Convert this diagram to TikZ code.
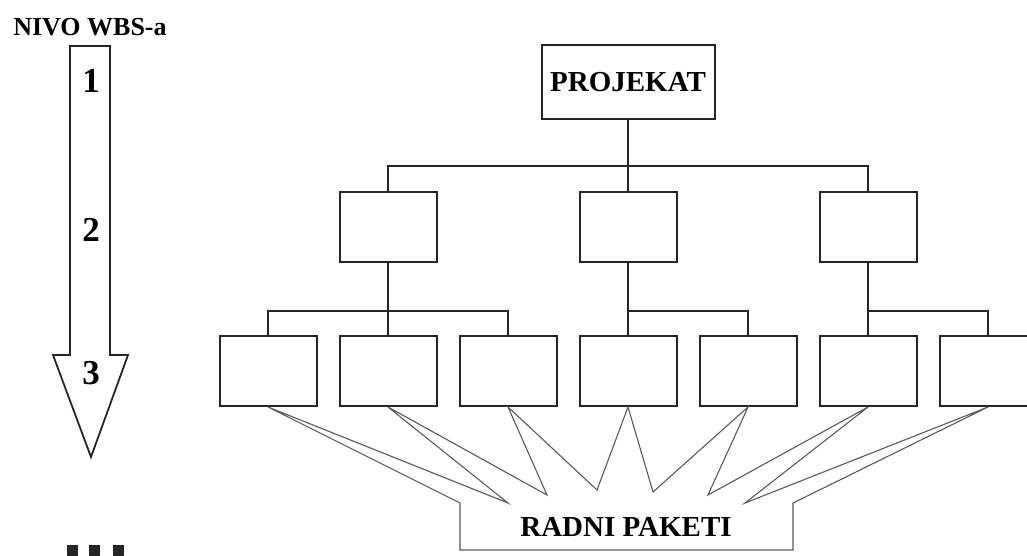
\documentclass[tikz,border=0pt]{standalone}
\usepackage{fontspec}
\setmainfont{Liberation Serif}
\usetikzlibrary{positioning}
\tikzset{
  base/.style = {draw=black!85, line width=2pt, text centered, inner sep=0pt},
}

\begin{document}
\begin{tikzpicture}[x=1pt, y=-1pt,
            wbs/.style   = {base, rectangle, minimum width=97pt, minimum height=70pt},
            projbox/.style = {base, rectangle, minimum width=173pt, minimum height=74pt,
                              font=\fontsize{29}{30}\selectfont\bfseries},
            conn/.style  = {draw=black!85, line width=1.8pt},
            spike/.style = {draw=black!65, line width=1.1pt},
            levelnum/.style = {font=\fontsize{35}{36}\selectfont\bfseries},
        ]
        \useasboundingbox (0,0) rectangle (1027,555);

        % level 3 (radni paketi)
        \node[wbs] (p1) at (268,371) {};
        \node[wbs, right=21pt of p1] (p2) {};
        \node[wbs, right=21pt of p2] (p3) {};
        \node[wbs, right=21pt of p3] (p4) {};
        \node[wbs, right=21pt of p4] (p5) {};
        \node[wbs, right=21pt of p5] (p6) {};
        \node[wbs, right=21pt of p6] (p7) {};

        % level 2
        \node[wbs, above=72pt of p2] (a) {};
        \node[wbs, above=72pt of p4] (b) {};
        \node[wbs, above=72pt of p6] (c) {};

        % level 1
        \node[projbox, above=71pt of b] (proj) {PROJEKAT};

        \coordinate (ja) at ([yshift=25pt]b.north);
        \coordinate (jb) at ([yshift=24pt]p2.north);
        \coordinate (jc) at ([yshift=24pt]p4.north);
        \coordinate (jd) at ([yshift=24pt]p6.north);

        \draw[conn] (proj) -- (b);
        \draw[conn] (a) |- (ja) -| (c);
        \draw[conn] (a) -- (p2);
        \draw[conn] (p1) |- (jb) -| (p3);
        \draw[conn] (b) -- (p4);
        \draw[conn] (jc) -| (p5);
        \draw[conn] (c) -- (p6);
        \draw[conn] (jd) -| (p7);

        % callout
        \node[font=\fontsize{29}{30}\selectfont\bfseries] (rp) at (626,527) {RADNI PAKETI};
        \draw[spike] (460,503) -- (p1.south) -- (508,503) -- (p2.south) -- (547,495)
              -- (p3.south) -- (597,490) -- (p4.south) -- (653,492) -- (p5.south)
              -- (708,495) -- (p6.south) -- (745,503) -- (p7.south) -- (793,503)
              -- (793,550) -- (460,550) -- cycle;

        % WBS levels arrow
        \node[font=\fontsize{26}{28}\selectfont\bfseries] (nivo) at (90,27) {NIVO WBS-a};
        \draw[draw=black!85, line width=1.8pt] (70,46) -- (110,46) -- (110,355) -- (128,355)
              -- (91,457) -- (53,355) -- (70,355) -- cycle;
        \node[levelnum] (n1) at (91,81) {1};
        \node[levelnum] (n2) at (91,230) {2};
        \node[levelnum] (n3) at (91,373) {3};

        \fill[black!85] (67,545) rectangle (78,556);
        \fill[black!85] (89,545) rectangle (100,556);
        \fill[black!85] (113,545) rectangle (124,556);
\end{tikzpicture}
\end{document}
